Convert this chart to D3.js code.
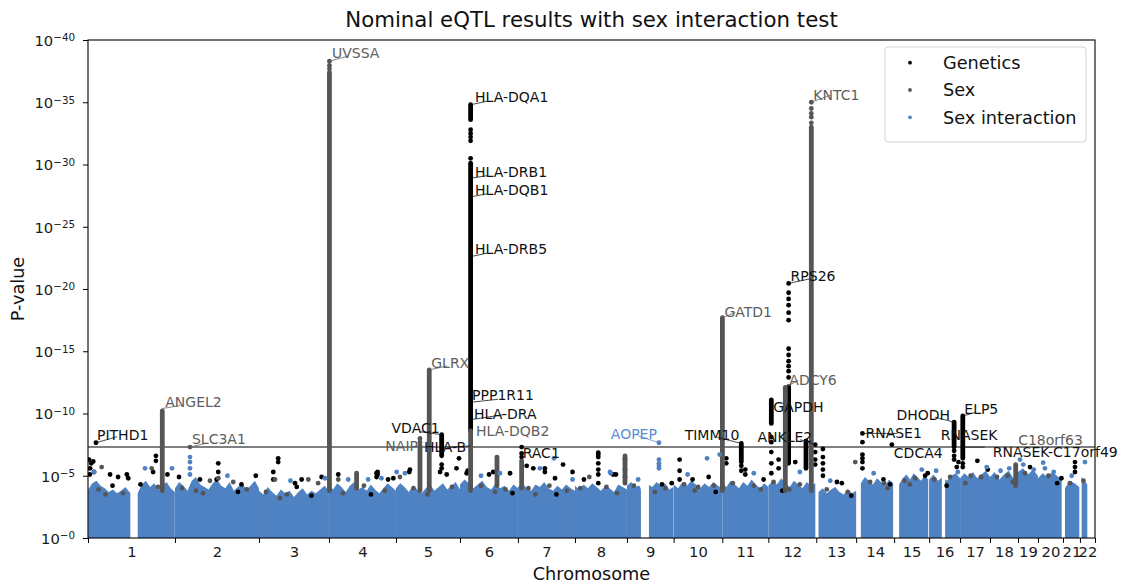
<!DOCTYPE html>
<html>
<head>
<meta charset="utf-8">
<script src="https://cdn.jsdelivr.net/npm/d3@7"></script>
<style>
  html, body { margin: 0; padding: 0; background: #fff; }
  svg { display: block; font-family: "DejaVu Sans", sans-serif; }
</style>
</head>
<body>
<svg id="chart" width="1125" height="588"></svg>
<script>
// ---------- data ----------
const chromosomes = d3.range(1, 23).map(String);
// span of each chromosome on the genome axis (Mb)
const chromLengthsMb = [248.5, 240, 200, 191.5, 183, 165.5, 163, 148.5, 133.5, 139, 131.5, 137,
                        114, 108.5, 100, 88.5, 85.5, 80, 57, 71.5, 48.5, 43];
// first / last tested position per chromosome (Mb)
const dataExtentMb = [[0.5, 248], [0, 240], [0, 200], [0, 191.5], [0, 183], [0, 165.5], [0, 163], [0, 148.5],
                      [0, 133], [0, 139], [0, 131.5], [0, 134.3], [6.5, 114], [13.4, 105.7], [14.3, 97.5],
                      [0, 88.5], [0, 85.5], [0, 80], [0, 57], [0, 67.7], [5.7, 46.6], [4.9, 21]];
// untested stretches: [chromosome, from Mb, to Mb]
const gapsMb = [[1, 121, 142], [9, 40, 62.9], [16, 36.3, 45.7]];
// upper edge of the dense cloud of background tests, -log10(p), evenly spaced along each chromosome
const cloudTop = [
  [3.9, 4.4, 4.6, 4.2, 4.0, 3.7, 3.9, 3.6, 3.8, 4.1, 3.7, 3.5, 3.6, 4.3, 4.6, 4.1, 4.4, 3.9, 4.2, 4.5, 4.0, 3.7],
  [4.0, 4.5, 4.2, 3.8, 4.6, 4.9, 4.3, 4.1, 3.9, 4.4, 4.7, 4.2, 4.0, 4.5, 3.8, 4.1, 4.4, 3.9, 4.2, 4.6, 4.0],
  [3.8, 3.5, 4.1, 3.7, 3.4, 3.9, 3.6, 3.8, 3.3, 3.7, 4.0, 3.5, 3.8, 3.6, 3.9, 4.2, 3.8],
  [4.3, 3.9, 4.4, 4.1, 3.7, 4.2, 4.5, 3.9, 4.1, 3.8, 4.3, 3.9, 3.6, 4.0, 4.4, 4.1, 3.8],
  [4.0, 4.4, 4.1, 3.7, 4.2, 3.9, 3.6, 4.0, 4.3, 3.8, 4.1, 4.4, 3.9, 4.2, 4.5, 3.9],
  [4.3, 4.7, 4.4, 4.0, 4.3, 4.6, 4.1, 3.9, 4.4, 4.0, 4.2, 3.8, 4.3, 4.0],
  [4.1, 4.4, 4.0, 3.8, 4.3, 4.1, 4.5, 4.0, 3.8, 4.2, 3.9, 4.3, 4.0, 3.8],
  [4.2, 3.9, 4.3, 4.0, 4.4, 4.1, 3.8, 4.2, 4.0, 3.7, 4.3, 4.1, 3.9],
  [4.2, 4.5, 4.1, 3.9, 4.0, 4.3, 4.1, 4.5, 4.2, 4.4, 3.9, 4.1],
  [4.3, 4.0, 4.5, 4.2, 4.6, 4.3, 4.0, 4.4, 4.1, 4.5, 4.2, 4.0],
  [4.4, 4.1, 4.6, 4.3, 4.0, 4.5, 4.2, 4.7, 4.3, 4.0, 4.4, 4.1],
  [4.2, 4.6, 4.3, 4.8, 4.4, 4.1, 4.6, 4.3, 4.0, 4.5, 4.2, 4.4],
  [3.7, 4.0, 3.6, 3.9, 4.1, 3.7, 3.5, 3.9, 3.6, 3.8],
  [4.4, 4.9, 4.6, 4.3, 4.8, 4.5, 4.2, 4.7, 4.4],
  [4.3, 4.8, 5.1, 4.7, 5.2, 4.9, 4.6, 5.0, 4.7],
  [4.7, 5.1, 4.6, 4.9, 4.6, 5.0, 5.2, 4.8],
  [4.8, 5.2, 4.9, 5.3, 4.8, 5.1, 5.4, 4.9],
  [4.9, 5.3, 4.7, 5.1, 5.4, 4.8, 5.0],
  [5.3, 5.6, 5.1, 5.5, 5.0],
  [4.8, 5.2, 4.9, 5.3, 5.0, 4.7],
  [4.0, 4.6, 4.4, 4.1],
  [4.9, 4.6, 4.3]
];

// dense runs of tests: [chromosome, Mb, low -log10(p), high -log10(p)]
const geneticsRuns = [
  [6, 30.3, 8.6, 30.1], [6, 30.3, 33.6, 34.8], [5, 130.6, 6.6, 8.3], [11, 54.3, 6.1, 7.6],
  [12, 8.6, 9.2, 11.1], [12, 58, 6.0, 12.15], [12, 107.7, 5.6, 7.8], [16, 71.4, 7.3, 9.3],
  [17, 7.7, 6.4, 9.8]
];
const sexRuns = [
  [1, 212.3, 3.8, 10.2], [4, 1.4, 3.8, 37.4], [5, 68.6, 3.8, 7.4], [5, 95.1, 3.8, 13.5],
  [6, 30.3, 3.8, 8.6], [6, 105.7, 4.2, 6.5], [7, 10.6, 4.0, 6.2], [11, 0.3, 3.8, 17.7],
  [12, 48.6, 3.8, 12.1], [12, 122.9, 3.8, 33.0], [18, 73.4, 4.2, 5.9], [4, 79, 4.0, 5.2],
  [8, 143, 4.4, 6.6]
];

// individual tests: [chromosome, Mb, -log10(p)]
const geneticsTests = [
  [1, 22.9, 7.65], [1, 3, 6.3], [1, 9, 6.0], [1, 15, 6.15], [1, 6, 5.6], [1, 17, 5.3], [1, 5, 5.1],
  [1, 63, 5.1], [1, 86, 4.9], [1, 111, 5.1], [1, 115, 4.8], [1, 194, 6.6], [1, 194, 6.2], [1, 186, 5.3],
  [1, 227, 5.1], [1, 70, 4.2], [1, 150, 4.3],
  [2, 11.4, 4.9], [2, 71.4, 4.7], [2, 123.7, 6.0], [2, 123.7, 5.3], [2, 119, 4.7], [2, 231, 5.0], [2, 190, 4.3],
  [2, 180, 3.7],
  [3, 41, 5.3], [3, 55, 6.4], [3, 55, 6.1], [3, 41, 4.7], [3, 103, 4.4], [3, 122, 4.7], [3, 108, 4.1], [3, 179, 4.9],
  [3, 150, 3.4],
  [4, 26.6, 5.1], [4, 139, 5.3], [4, 139, 5.1], [4, 169, 4.7], [4, 136, 5.2], [4, 136, 4.9], [4, 184, 4.8],
  [4, 120, 3.5],
  [5, 38, 5.3], [5, 40, 5.5], [5, 126, 5.3], [5, 145, 5.1], [5, 130.6, 5.9], [5, 130.6, 5.6], [5, 180, 6.4], [5, 173, 5.6],
  [6, 22, 5.4], [6, 19, 5.2], [6, 83, 5.1], [6, 95, 5.3], [6, 143, 5.2], [6, 150, 3.6],
  [6, 30.3, 32.8], [6, 30.3, 32.5], [6, 30.3, 32.2], [6, 30.3, 31.9], [6, 30.3, 30.5],
  [7, 10.6, 7.3], [7, 10.6, 6.8], [7, 10.6, 6.5], [7, 25, 5.8], [7, 77, 5.6], [7, 77, 5.3], [7, 106, 4.8],
  [7, 129, 5.9], [7, 156, 5.3], [7, 44, 5.6], [7, 110, 3.5],
  [8, 66.6, 6.85], [8, 66.6, 6.7], [8, 66.6, 6.5], [8, 66.6, 6.0], [8, 66.6, 5.5], [8, 66.6, 5.1], [8, 66.6, 4.4],
  [8, 25.7, 4.7], [8, 117, 5.1], [8, 109, 5.1], [8, 143, 6.3], [8, 143, 5.5], [8, 143, 4.9],
  [9, 128, 4.4], [9, 100, 4.3],
  [10, 17, 6.3], [10, 17, 5.4], [10, 17, 4.7], [10, 54, 4.7], [10, 100, 4.9], [10, 120, 3.7],
  [11, 54.3, 5.8], [11, 54.3, 5.4], [11, 11.4, 6.4], [11, 11.4, 6.0], [11, 65.7, 5.5], [11, 65.7, 5.1], [11, 118, 4.7],
  [12, 8.6, 8.1], [12, 8.6, 7.7], [12, 8.6, 6.9], [12, 8.6, 6.0], [12, 8.6, 5.2], [12, 29.4, 6.3], [12, 29.4, 5.6],
  [12, 77, 6.1], [12, 134, 7.5], [12, 134, 6.9], [12, 134, 6.3], [12, 134, 5.9], [12, 40, 3.8],
  [12, 58, 20.45], [12, 58, 19.7], [12, 58, 19.2], [12, 58, 18.7], [12, 58, 18.1], [12, 58, 17.5],
  [12, 58, 15.2], [12, 58, 14.7], [12, 58, 14.2], [12, 58, 13.8], [12, 58, 13.4], [12, 58, 12.9],
  [13, 19, 7.15], [13, 19, 6.5], [13, 19, 6.0], [13, 19, 5.5], [13, 19, 5.0], [13, 59, 4.5], [13, 73, 4.4],
  [13, 100, 3.4],
  [14, 18, 8.4], [14, 18, 7.7], [14, 18, 6.7], [14, 18, 6.4], [14, 18, 6.1], [14, 18, 5.6], [14, 102, 7.5],
  [14, 78, 4.7], [14, 97, 4.3],
  [15, 96, 5.2], [15, 88.6, 5.0],
  [16, 71.4, 7.0], [16, 71.4, 6.6], [16, 71.4, 6.3], [16, 83.7, 6.1], [16, 79, 5.7], [16, 50, 4.2],
  [17, 7.7, 6.0], [17, 7.7, 5.7], [17, 49.4, 6.2], [17, 79, 5.5],
  [19, 34.3, 5.7], [20, 67, 4.8], [20, 55, 4.4], [21, 34.3, 6.1], [21, 34.3, 5.7], [21, 34.3, 5.3]
];
const sexTests = [
  [1, 39, 5.7], [1, 182, 5.6], [1, 30, 3.9], [1, 100, 3.6], [1, 200, 4.1], [1, 50, 3.5],
  [2, 42.9, 7.3], [2, 124, 4.8], [2, 100, 4.6], [2, 166.6, 4.5], [2, 20, 4.0], [2, 60, 3.8], [2, 205, 3.9],
  [2, 80, 3.6],
  [3, 45.7, 4.7], [3, 141, 4.7], [3, 169, 4.4], [3, 20, 3.7], [3, 80, 3.5], [3, 60, 3.2],
  [4, 1.4, 38.3], [4, 1.4, 37.95], [4, 1.4, 37.7], [4, 26.6, 4.7], [4, 100, 4.2], [4, 160, 3.8], [4, 40, 3.6],
  [5, 68.6, 8.0], [5, 68.6, 7.7], [5, 11.4, 4.9], [5, 50, 4.0], [5, 160, 4.1], [5, 90, 3.5],
  [6, 60, 4.2], [6, 130, 3.9], [6, 100, 3.7], [7, 30, 4.0], [7, 90, 4.2], [7, 140, 3.8], [7, 50, 3.5],
  [8, 41, 4.9], [8, 15, 4.0], [8, 90, 4.1], [8, 120, 3.6], [9, 20, 4.2], [9, 110, 4.0], [9, 80, 3.7],
  [10, 30, 4.3], [10, 70, 4.1], [10, 115, 4.2], [10, 60, 3.8], [11, 30, 4.4], [11, 90, 4.2], [11, 110, 3.9],
  [12, 122.9, 35.0], [12, 122.9, 34.5], [12, 122.9, 34.1], [12, 122.9, 33.8], [12, 122.9, 33.35],
  [12, 15, 4.5], [12, 90, 4.3], [12, 60, 3.9], [13, 111.4, 6.1], [13, 30, 3.9], [13, 90, 3.7],
  [14, 40, 4.5], [14, 80, 4.4], [14, 90, 4.0], [15, 30, 4.6], [15, 60, 4.8], [15, 45, 4.3],
  [16, 15, 4.7], [16, 60, 4.9], [17, 30, 5.0], [17, 60, 4.9], [17, 15, 4.4],
  [18, 20, 4.9], [18, 50, 5.0], [18, 65, 4.5], [19, 20, 5.2], [20, 30, 5.0], [21, 20, 4.4], [22, 10, 4.6]
];
const interactionTests = [
  [9, 91.4, 7.65], [9, 91.4, 6.3], [9, 91.4, 6.0], [9, 91.4, 5.8], [9, 91.4, 5.6],
  [2, 42.9, 6.5], [2, 42.9, 6.1], [2, 42.9, 5.6], [2, 42.9, 5.1],
  [1, 18, 5.3], [1, 163, 5.6], [1, 240, 5.6], [3, 188.6, 4.8], [4, 55, 4.7], [4, 112, 4.7],
  [5, 2, 5.3], [5, 25.7, 5.2], [6, 114, 5.2], [7, 63, 5.6], [7, 156, 4.7], [7, 103, 6.4],
  [8, 102, 5.2], [8, 100, 5.3], [9, 32, 4.7], [9, 32, 4.0], [10, 95.4, 6.4], [10, 131.4, 6.7],
  [15, 79, 5.5], [16, 82, 5.3], [17, 76, 5.7], [19, 5.7, 6.3], [19, 15, 5.9], [20, 15, 6.05], [20, 20, 5.6],
  [22, 14.3, 6.1], [2, 150, 5.0], [3, 90, 4.6], [4, 150, 4.8], [6, 60, 5.0], [10, 40, 5.1], [11, 90, 5.2],
  [13, 40, 4.6], [14, 50, 5.2], [18, 30, 5.4], [18, 55, 5.6], [19, 45, 5.5], [20, 45, 5.3], [21, 25, 5.0],
  [12, 90, 5.3], [16, 20, 5.4]
];

// annotated lead genes: [gene, series, chromosome, Mb, -log10(p)]
const leadGenes = [
  ["PITHD1", "gen", 1, 22.9, 7.65], ["ANGEL2", "sex", 1, 212.3, 10.4], ["SLC3A1", "sex", 2, 42.9, 7.3],
  ["UVSSA", "sex", 4, 1.4, 38.3], ["NAIP", "sex", 5, 68.6, 8.0], ["GLRX", "sex", 5, 95.1, 13.5],
  ["VDAC1", "gen", 5, 130.6, 8.3], ["HLA-B", "gen", 6, 30.3, 7.4], ["HLA-DQA1", "gen", 6, 30.3, 34.8],
  ["HLA-DRB1", "gen", 6, 30.3, 28.9], ["HLA-DQB1", "gen", 6, 30.3, 27.4], ["HLA-DRB5", "gen", 6, 30.3, 22.6],
  ["PPP1R11", "gen", 6, 30.3, 10.9], ["HLA-DRA", "gen", 6, 30.3, 9.5], ["HLA-DQB2", "sex", 6, 30.3, 8.6],
  ["RAC1", "gen", 7, 10.6, 7.3], ["AOPEP", "int", 9, 91.4, 7.65], ["TIMM10", "gen", 11, 54.3, 7.6],
  ["GATD1", "sex", 11, 0.3, 17.7], ["GAPDH", "gen", 12, 8.6, 11.1], ["ADCY6", "sex", 12, 48.6, 12.1],
  ["RPS26", "gen", 12, 58, 20.45], ["ANKLE2", "gen", 12, 134, 7.5], ["KNTC1", "sex", 12, 122.9, 35.0],
  ["RNASE1", "gen", 14, 18, 8.4], ["CDCA4", "gen", 14, 102, 7.5], ["DHODH", "gen", 16, 71.4, 9.3],
  ["ELP5", "gen", 17, 7.7, 9.8], ["RNASEK", "gen", 17, 7.7, 8.3], ["RNASEK-C17orf49", "gen", 17, 7.7, 7.3],
  ["C18orf63", "sex", 18, 73.4, 5.9]
];

const yTicks = [0, 5, 10, 15, 20, 25, 30, 35, 40];
const genomeWideThreshold = 7.3;   // p = 5e-8
const seriesNames = ["Genetics", "Sex", "Sex interaction"];

// ---------- layout & style ----------
const W = 1125, H = 588;
const M = { left: 88, right: 1095, top: 40, bottom: 538 };
const COLORS = { gen: "#000000", sex: "#555555", int: "#4f82c3" };
const TEXT_COLORS = { gen: "#111111", sex: "#5e5e5e", int: "#5a8bd0" };
const DOT_R = 2.4;

// text placement relative to the annotated point: [dx, dy, anchor, leader end (relative to text anchor) or null]
const labelPlacement = {
  "PITHD1": [1, -8, "start", [20, 2]],
  "ANGEL2": [3, -7, "start", [15, 4]],
  "SLC3A1": [2, -8, "start", [15, 4]],
  "UVSSA": [2.5, -8, "start", [16, 3]],
  "NAIP": [-2, 8, "end", null],
  "GLRX": [2, -7, "start", [16, 3]],
  "VDAC1": [-2, -7, "end", [-20, 4]],
  "HLA-B": [-4.5, 1, "end", [-19, 0.5]],
  "HLA-DQA1": [4.5, -7.5, "start", [12, 4]],
  "HLA-DRB1": [4.5, -6.5, "start", [12, 4]],
  "HLA-DQB1": [4.5, -7, "start", [12, 4]],
  "HLA-DRB5": [4.5, -7.5, "start", [12, 4]],
  "PPP1R11": [1.5, -7, "start", [26, 4]],
  "HLA-DRA": [3.5, -6, "start", [29, 1]],
  "HLA-DQB2": [5.5, 0, "start", null],
  "RAC1": [1, 6, "start", null],
  "AOPEP": [-2, -9, "end", [-19, 2]],
  "TIMM10": [-2, -8, "end", [-22, 2]],
  "GATD1": [2, -6, "start", [11, 1]],
  "GAPDH": [2, 7, "start", null],
  "ADCY6": [4, -7, "start", [9, 0]],
  "RPS26": [2, -7, "start", [20, 2.3]],
  "ANKLE2": [-3, -8, "end", [-12, 3]],
  "KNTC1": [2, -7, "start", [17, 0]],
  "RNASE1": [3, 0, "start", [32, 0]],
  "CDCA4": [2, 8, "start", null],
  "DHODH": [-4, -7, "end", [-15, 2]],
  "ELP5": [1.5, -7.5, "start", [11, 4]],
  "RNASEK": [-22, 0, "start", null],
  "RNASEK-C17orf49": [30, 4.5, "start", [-8, -4.5]],
  "C18orf63": [2.5, -25, "start", null]
};

// ---------- scales ----------
const chromStart = Array.from(d3.cumsum([0, ...chromLengthsMb]));
const totalMb = chromStart[chromStart.length - 1];
const x = d3.scaleLinear().domain([0, totalMb]).range([M.left, M.right]);
const y = d3.scaleLinear().domain([yTicks[0], yTicks[yTicks.length - 1]]).range([M.bottom, M.top]);
const gx = (chr, pos) => x(chromStart[chr - 1] + pos);

const svg = d3.select("#chart");
svg.append("rect").attr("width", W).attr("height", H).attr("fill", "#fff");

const plot = svg.append("g");
plot.append("clipPath").attr("id", "plotClip")
  .append("rect").attr("x", M.left).attr("y", M.top - 4)
  .attr("width", M.right - M.left).attr("height", M.bottom - M.top + 4);
const data = plot.append("g").attr("clip-path", "url(#plotClip)");

// ---------- background cloud of tests ----------
const cloud = d3.area().x(d => x(d[0])).y0(y(0)).y1(d => y(d[1])).curve(d3.curveLinear);
cloudTop.forEach((vals, i) => {
  const [a, b] = dataExtentMb[i];
  const pts = vals.map((v, k) => [chromStart[i] + a + (b - a) * k / (vals.length - 1), v]);
  data.append("path").attr("d", cloud(pts)).attr("fill", COLORS.int);
});
data.selectAll("rect.gap").data(gapsMb).join("rect").attr("class", "gap")
  .attr("x", d => gx(d[0], d[1])).attr("width", d => gx(d[0], d[2]) - gx(d[0], d[1]))
  .attr("y", y(6)).attr("height", y(0) - y(6)).attr("fill", "#fff");

// genome-wide significance
data.append("line")
  .attr("x1", M.left).attr("x2", M.right)
  .attr("y1", y(genomeWideThreshold)).attr("y2", y(genomeWideThreshold))
  .attr("stroke", "#808080").attr("stroke-width", 2);

// ---------- tests ----------
function drawRuns(rows, color) {
  data.append("g").selectAll("line").data(rows).join("line")
    .attr("x1", d => gx(d[0], d[1])).attr("x2", d => gx(d[0], d[1]))
    .attr("y1", d => y(d[2])).attr("y2", d => y(d[3]))
    .attr("stroke", color).attr("stroke-width", DOT_R * 2).attr("stroke-linecap", "round");
}
function drawTests(rows, color) {
  data.append("g").selectAll("circle").data(rows).join("circle")
    .attr("cx", d => gx(d[0], d[1])).attr("cy", d => y(d[2]))
    .attr("r", DOT_R).attr("fill", color);
}
drawRuns(geneticsRuns, COLORS.gen);
drawTests(geneticsTests, COLORS.gen);
drawRuns(sexRuns, COLORS.sex);
drawTests(sexTests, COLORS.sex);
drawTests(interactionTests, COLORS.int);

// ---------- annotations ----------
const ann = svg.append("g").style("font-size", "14px");
leadGenes.forEach(([gene, series, chr, pos, v]) => {
  const [dx, dy, anchor, leader] = labelPlacement[gene];
  const px = gx(chr, pos), py = y(v);
  const tx = px + dx, ty = py + dy;
  if (leader) {
    ann.append("line")
      .attr("x1", px).attr("y1", py)
      .attr("x2", tx + leader[0]).attr("y2", ty + leader[1])
      .attr("stroke", TEXT_COLORS[series]).attr("stroke-width", 0.9).attr("stroke-opacity", 0.85);
  }
  ann.append("text").attr("x", tx).attr("y", ty).attr("dy", "0.36em")
    .attr("text-anchor", anchor).attr("fill", TEXT_COLORS[series]).text(gene);
});

// ---------- axes ----------
const yAxis = svg.append("g").attr("transform", `translate(${M.left},0)`)
  .call(d3.axisLeft(y).tickValues(yTicks).tickSize(5).tickFormat(""));
yAxis.select(".domain").remove();
yAxis.selectAll(".tick line").attr("stroke", "#000");
yAxis.selectAll(".tick").append("text")
  .attr("x", -13).attr("dy", "0.36em").attr("text-anchor", "end")
  .attr("fill", "#1a1a1a").style("font-size", "14.75px").style("font-family", "DejaVu Sans")
  .each(function (d) {
    const t = d3.select(this);
    t.append("tspan").text("10");
    t.append("tspan").attr("dy", "-0.42em").style("font-size", "10.3px").text("\u2212" + d);
  });

const xAxis = svg.append("g").attr("transform", `translate(0,${M.bottom})`)
  .call(d3.axisBottom(x).tickValues(chromStart).tickSize(5).tickFormat(""));
xAxis.select(".domain").remove();
xAxis.selectAll(".tick line").attr("stroke", "#000");

const centers = chromosomes.map((c, i) => [c, (chromStart[i] + chromStart[i + 1]) / 2]);
const xLabels = svg.append("g").attr("transform", `translate(0,${M.bottom})`)
  .call(d3.axisBottom(x).tickValues(centers.map(d => d[1])).tickSize(0)
    .tickFormat((d, i) => centers[i][0]));
xLabels.select(".domain").remove();
xLabels.selectAll("text").attr("dy", null).attr("y", 19)
  .attr("fill", "#1a1a1a").style("font-size", "14.75px").style("font-family", "DejaVu Sans");

// frame
svg.append("rect").attr("x", M.left).attr("y", M.top)
  .attr("width", M.right - M.left).attr("height", M.bottom - M.top)
  .attr("fill", "none").attr("stroke", "#000").attr("stroke-width", 1.1);

// titles
svg.append("text").attr("x", (M.left + M.right) / 2).attr("y", 27)
  .attr("text-anchor", "middle").style("font-size", "21.3px").attr("fill", "#111")
  .text("Nominal eQTL results with sex interaction test");
svg.append("text").attr("x", (M.left + M.right) / 2).attr("y", 580)
  .attr("text-anchor", "middle").style("font-size", "17.7px").attr("fill", "#111")
  .text("Chromosome");
svg.append("text").attr("transform", `translate(24,${(M.top + M.bottom) / 2}) rotate(-90)`)
  .attr("text-anchor", "middle").style("font-size", "17.7px").attr("fill", "#111")
  .text("P-value");

// ---------- legend ----------
const legend = svg.append("g").attr("transform", "translate(885,47)");
legend.append("rect").attr("width", 201).attr("height", 95).attr("rx", 3)
  .attr("fill", "#fff").attr("fill-opacity", 0.85).attr("stroke", "#d4d4d4");
const legendColors = [COLORS.gen, COLORS.sex, COLORS.int];
seriesNames.forEach((name, i) => {
  const row = legend.append("g").attr("transform", `translate(0,${15.7 + i * 27.3})`);
  row.append("circle").attr("cx", 25).attr("cy", 0).attr("r", 1.9).attr("fill", legendColors[i]);
  row.append("text").attr("x", 58).attr("dy", "0.36em").style("font-size", "17.7px")
    .attr("fill", "#111").text(name);
});
</script>
</body>
</html>
